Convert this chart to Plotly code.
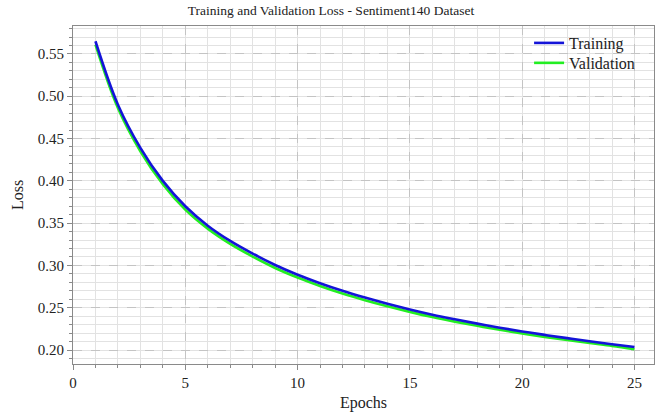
import plotly.graph_objects as go

epochs = list(range(1, 26))
training_loss = [0.565, 0.490, 0.439, 0.400, 0.370, 0.347, 0.329, 0.314, 0.3005, 0.289,
                 0.279, 0.270, 0.262, 0.2547, 0.248, 0.2418, 0.2363, 0.2312, 0.2264, 0.222,
                 0.2179, 0.2141, 0.2104, 0.2069, 0.2035]
validation_loss = [0.561, 0.486, 0.435, 0.396, 0.366, 0.3435, 0.3255, 0.3105, 0.297, 0.2857,
                   0.2758, 0.2668, 0.2589, 0.2517, 0.2451, 0.2390, 0.2336, 0.2286, 0.2239, 0.2196,
                   0.2156, 0.2119, 0.2083, 0.2049, 0.2010]
x_ticks = [0, 5, 10, 15, 20, 25]
y_ticks = [0.20, 0.25, 0.30, 0.35, 0.40, 0.45, 0.50, 0.55]

FONT = "Liberation Serif, Times New Roman, serif"

fig = go.Figure()
fig.add_trace(go.Scatter(x=epochs, y=validation_loss, mode="lines", name="Validation",
                         line=dict(color="#22ee22", width=2.6, shape="spline"),
                         legend="legend2"))
fig.add_trace(go.Scatter(x=epochs, y=training_loss, mode="lines", name="Training",
                         line=dict(color="#1414d8", width=2.6, shape="spline"),
                         legend="legend"))

axis_common = dict(
    showline=True, linecolor="#8a8a8a", linewidth=1, mirror=True,
    ticks="outside", ticklen=5, tickcolor="#8a8a8a", tickwidth=1,
    tickfont=dict(family=FONT, size=15, color="#222"),
    showgrid=True, gridcolor="#c4c4c4", griddash="dash", gridwidth=1,
    zeroline=False,
)

legend_common = dict(
    xanchor="left", yanchor="top",
    bgcolor="rgba(255,255,255,0)", borderwidth=0,
    font=dict(family=FONT, size=16, color="#222"),
    itemwidth=30,
)

fig.update_layout(
    width=662, height=415,
    margin=dict(l=73, r=7, t=26, b=49),
    paper_bgcolor="white", plot_bgcolor="white",
    title=dict(text="Training and Validation Loss - Sentiment140 Dataset",
               x=0.5, xanchor="center", y=0.975, yanchor="middle",
               font=dict(family=FONT, size=13.5, color="#222")),
    font=dict(family=FONT, color="#222"),
    legend=dict(x=0.785, y=1.0, **legend_common),
    legend2=dict(x=0.785, y=0.941, **legend_common),
    showlegend=True,
)

fig.update_xaxes(
    **axis_common,
    range=[0, 25.87], tickvals=x_ticks, ticktext=[str(v) for v in x_ticks],
    title=dict(text="Epochs", font=dict(family=FONT, size=16, color="#222"), standoff=6),
    minor=dict(dtick=1, tick0=0, ticks="outside", ticklen=3, tickcolor="#8a8a8a",
               showgrid=True, gridcolor="#e2e2e2", griddash="solid"),
)
fig.update_yaxes(
    **axis_common,
    range=[0.1835, 0.583], tickvals=y_ticks, ticktext=[f"{v:.2f}" for v in y_ticks],
    title=dict(text="Loss", font=dict(family=FONT, size=16, color="#222"), standoff=10),
    minor=dict(dtick=0.01, tick0=0.2, ticks="outside", ticklen=3, tickcolor="#8a8a8a",
               showgrid=True, gridcolor="#e2e2e2", griddash="solid"),
)

fig.write_html("out.html")
